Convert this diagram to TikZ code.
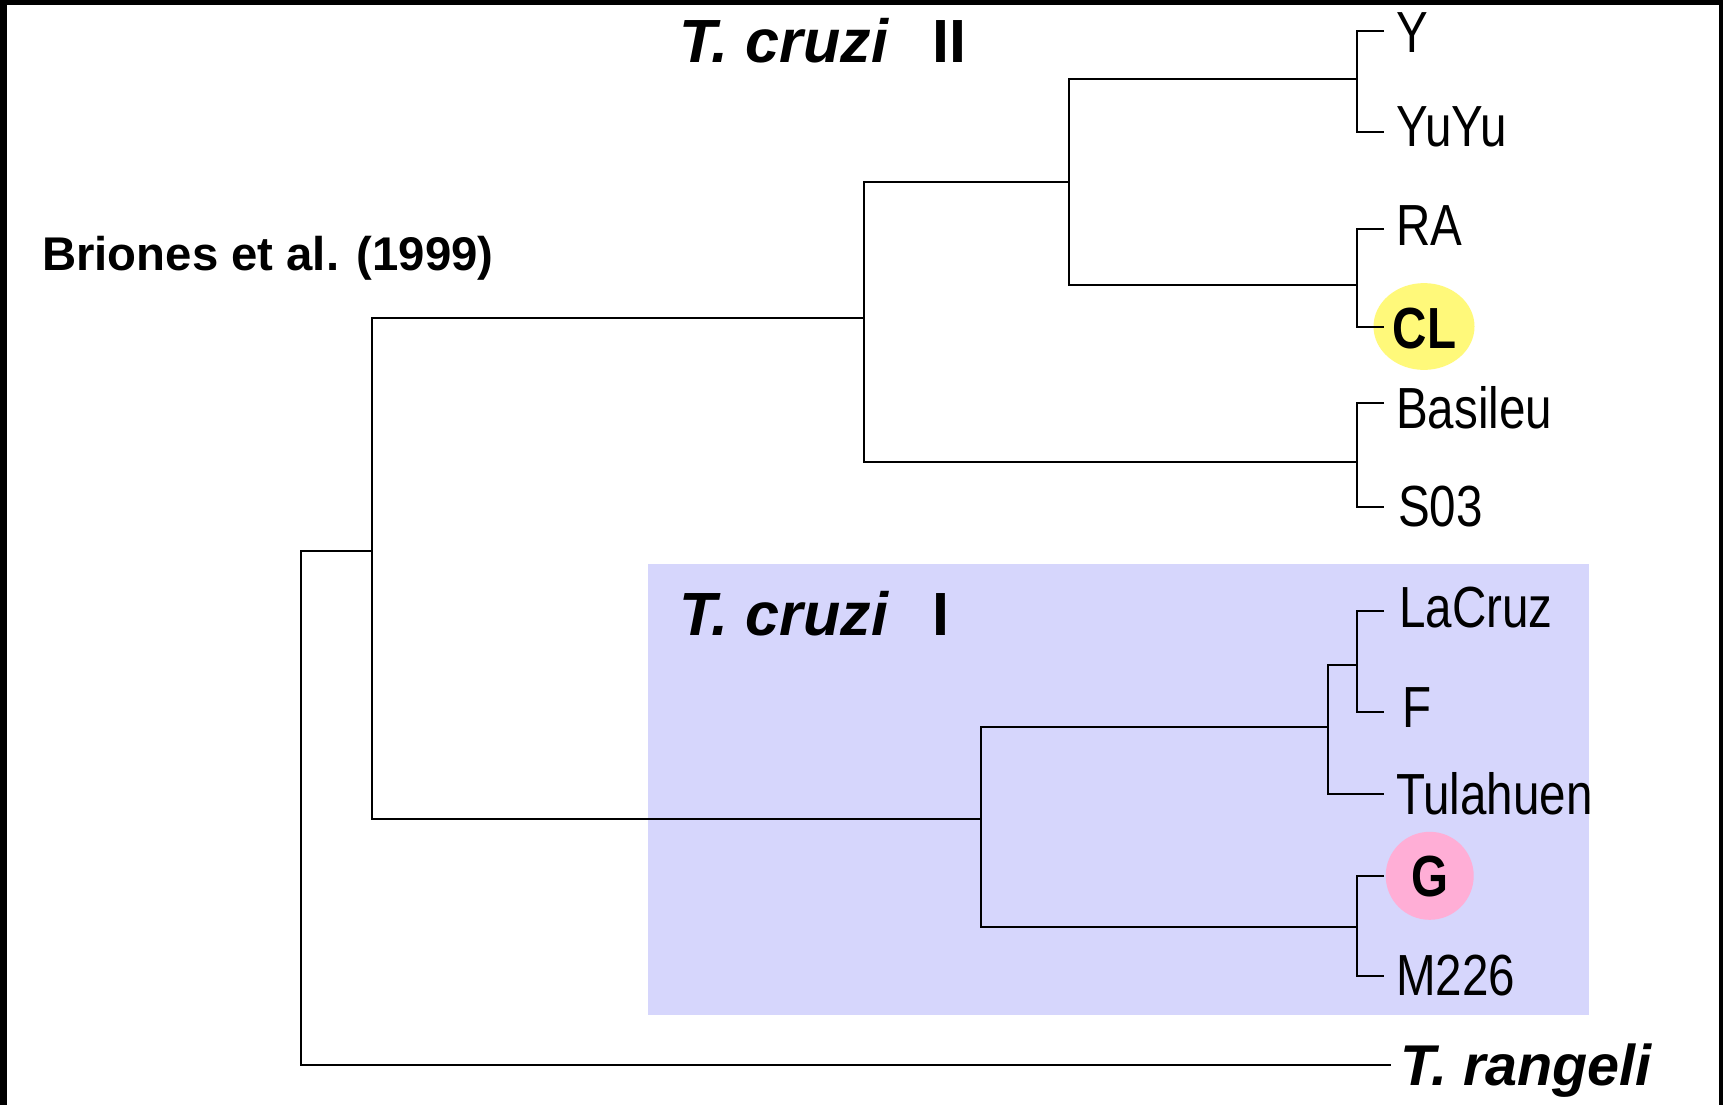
\documentclass[tikz,border=0pt]{standalone}
\usepackage{fontspec}
\setmainfont{Liberation Sans}
\newfontfamily\narrowfont[FakeStretch=0.82]{Liberation Sans}
\definecolor{cladebg}{RGB}{214,214,252}
\definecolor{yellowhl}{RGB}{255,249,122}
\definecolor{pinkhl}{RGB}{255,174,214}
\tikzset{
  branch/.style={line width=2.9pt, line join=miter, draw=black},
  leaflab/.style={anchor=base west, inner sep=0pt, font=\narrowfont\fontsize{58}{58}\selectfont},
  hllab/.style={anchor=base, inner sep=0pt, font=\narrowfont\bfseries\fontsize{58}{58}\selectfont},
  grouplab/.style={anchor=base west, inner sep=0pt, font=\bfseries\fontsize{61}{61}\selectfont},
}
\begin{document}
\begin{tikzpicture}[x=1pt,y=-1pt]
\useasboundingbox (0,0) rectangle (1723,1105);
\fill[white] (0,0) rectangle (1723,1105);
% clade I background
\fill[cladebg] (648.4,563.7) rectangle (1589,1015.4);
% highlights
\fill[yellowhl] (1424,326.5) ellipse [x radius=50.5pt, y radius=43.4pt];
\fill[pinkhl] (1429.7,875.8) circle [radius=44pt];

% junction coordinates (where a parent's branch meets the node's vertical)
\coordinate (root) at (301,551);
\coordinate (nA) at (372,551);
\coordinate (nB) at (864,318);
\coordinate (nC) at (1069,182);
\coordinate (nYY) at (1357,79);
\coordinate (nRC) at (1357,285);
\coordinate (nBS) at (1357,462);
\coordinate (nD) at (981,819);
\coordinate (nE) at (1328,727);
\coordinate (nLF) at (1357,665);
\coordinate (nGM) at (1357,927);
% leaf ends
\coordinate (lY) at (1384,31);
\coordinate (lYuYu) at (1384,132);
\coordinate (lRA) at (1384,229);
\coordinate (lCL) at (1384,327);
\coordinate (lBas) at (1384,403);
\coordinate (lS03) at (1384,507);
\coordinate (lLaC) at (1384,611);
\coordinate (lF) at (1384,712);
\coordinate (lTul) at (1384,794);
\coordinate (lG) at (1384,876);
\coordinate (lM) at (1384,976);
\coordinate (lTr) at (1391,1065);

% tree
\draw[branch] (nA) -- (root) |- (lTr);
\draw[branch] (nB) -| (nA) |- (nD);
\draw[branch] (nC) -| (nB) |- (nBS);
\draw[branch] (nYY) -| (nC) |- (nRC);
\draw[branch] (nE) -| (nD) |- (nGM);
\draw[branch] (nLF) -| (nE) |- (lTul);
\draw[branch] (lY) -| (nYY) |- (lYuYu);
\draw[branch] (lRA) -| (nRC) |- (lCL);
\draw[branch] (lBas) -| (nBS) |- (lS03);
\draw[branch] (lLaC) -| (nLF) |- (lF);
\draw[branch] (lG) -| (nGM) |- (lM);

% leaf labels
\node[leaflab] (tY) at (1396,52.4) {Y};
\node[leaflab] (tYuYu) at (1396,146.8) {YuYu};
\node[leaflab] (tRA) at (1396,245.7) {RA};
\node[hllab] (tCL) at (1424.5,348.3) {CL};
\node[leaflab] (tBas) at (1396,428.5) {Basileu};
\node[leaflab] (tS03) at (1398,526.3) {S03};
\node[leaflab] (tLaC) at (1399,627.4) {LaCruz};
\node[leaflab] (tF) at (1402,727.4) {F};
\node[leaflab] (tTul) at (1396,814.2) {Tulahuen};
\node[hllab] (tG) at (1429.7,896.6) {G};
\node[leaflab] (tM) at (1396,995.5) {M226};
\node[anchor=base west, inner sep=0pt, font=\bfseries\itshape\fontsize{57.5}{57.5}\selectfont] (tTr) at (1400,1085.5) {T. rangeli};

% group labels
\node[grouplab] (g2) at (679,62.6) {\itshape T. cruzi\hspace{44pt}\upshape II};
\node[grouplab] (g1) at (679,635) {\itshape T. cruzi\hspace{44pt}\upshape I};
\node[anchor=base west, inner sep=0pt, font=\bfseries\fontsize{47.3}{47.3}\selectfont] (ref) at (42,270) {Briones et al. (1999)};

% frame bands
\fill[black] (0,0) rectangle (1723,5);
\fill[black] (0,0) rectangle (7,1105);
\fill[black] (1718.5,0) rectangle (1723,1105);
\end{tikzpicture}
\end{document}
